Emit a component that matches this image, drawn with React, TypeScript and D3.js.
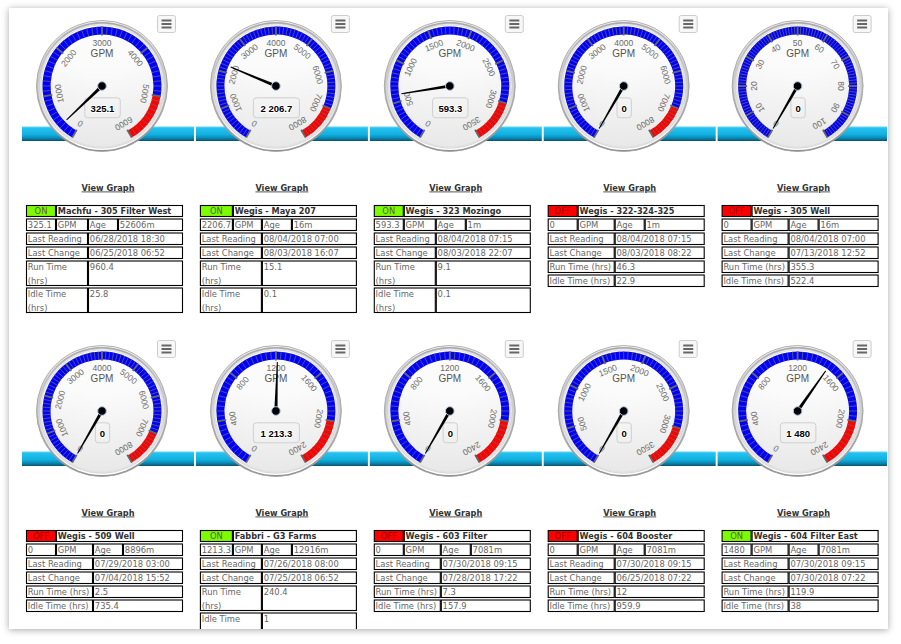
import React from "react";
import * as d3 from "d3";

// ---------- DATA ----------
const stationNames = [
  "Machfu - 305 Filter West",
  "Wegis - Maya 207",
  "Wegis - 323 Mozingo",
  "Wegis - 322-324-325",
  "Wegis - 305 Well",
  "Wegis - 509 Well",
  "Fabbri - G3 Farms",
  "Wegis - 603 Filter",
  "Wegis - 604 Booster",
  "Wegis - 604 Filter East",
];
const flowValues = [325.1, 2206.7, 593.3, 0, 0, 0, 1213.3, 0, 0, 1480];
const gaugeMax = [6000, 8000, 3500, 8000, 100, 8000, 2400, 2400, 3500, 2400];
const tickStep = [1000, 1000, 500, 1000, 10, 1000, 400, 400, 500, 400];
const redFrom: (number | null)[] = [5000, 7000, 3000, 7000, null, 7000, 2000, 2000, 3000, 2000];
const statusLabels = ["ON", "ON", "ON", "OFF", "OFF", "OFF", "ON", "OFF", "OFF", "ON"];
const ageLabels = ["52606m", "16m", "1m", "1m", "16m", "8896m", "12916m", "7081m", "7081m", "7081m"];
const lastReading = [
  "06/28/2018 18:30", "08/04/2018 07:00", "08/04/2018 07:15", "08/04/2018 07:15", "08/04/2018 07:00",
  "07/29/2018 03:00", "07/26/2018 08:00", "07/30/2018 09:15", "07/30/2018 09:15", "07/30/2018 09:15",
];
const lastChange = [
  "06/25/2018 06:52", "08/03/2018 16:07", "08/03/2018 22:07", "08/03/2018 08:22", "07/13/2018 12:52",
  "07/04/2018 15:52", "07/25/2018 06:52", "07/28/2018 17:22", "06/25/2018 07:22", "07/30/2018 07:22",
];
const runTime = ["960.4", "15.1", "9.1", "46.3", "355.3", "2.5", "240.4", "7.3", "12", "119.9"];
const idleTime = ["25.8", "0.1", "0.1", "22.9", "522.4", "735.4", "1", "157.9", "959.9", "38"];
const unitLabel = "GPM";

// ---------- LAYOUT ----------
const W = 901;
const H = 644;
const COL_X0 = 21;
const COL_W = 173.9;
const ROW_DY = 325;
const WRAPPED = new Set([0, 1, 2, 6]);
const GAUGE_FONT = "'Liberation Sans', Arial, sans-serif";
const TABLE_FONT = "'DejaVu Sans', Verdana, sans-serif";

const fmtLabel = (v: number) => d3.format(",")(v).replace(/,/g, " ");

function Gauge({ i, cx, cy }: { i: number; cx: number; cy: number }) {
  const max = gaugeMax[i];
  const step = tickStep[i];
  const angle = d3.scaleLinear().domain([0, max]).range([-150, 150]);
  const rad = (deg: number) => (deg * Math.PI) / 180;
  const R_OUT = 59.5;
  const R_IN = 51.5;
  const band = d3.arc<any>().innerRadius(R_IN).outerRadius(R_OUT);
  const red = redFrom[i];
  const blueEnd = red == null ? max : red;
  const majors = d3.range(0, max + step / 2, step);
  const minorStep = step / 10;
  const minors = d3.range(0, max + minorStep / 2, minorStep);
  const val = flowValues[i];
  const label = fmtLabel(val);
  const labelW = label.length * 5.3 + 9;
  const needleA = angle(val);
  const pt = (a: number, r: number) => [Math.sin(rad(a)) * r, -Math.cos(rad(a)) * r];

  return (
    <g transform={`translate(${cx},${cy})`}>
      {/* bezel */}
      <circle r={65.5} fill="url(#bezel1)" stroke="#a0a0a0" strokeWidth={0.8} />
      <circle r={64} fill="url(#bezel2)" />
      <circle r={62.3} fill="url(#face)" stroke="#c8c8c8" strokeWidth={0.6} />
      <circle r={61} fill="none" stroke="#e0e0e0" strokeWidth={1.2} />
      {/* bands */}
      <path d={band({ startAngle: rad(angle(0)), endAngle: rad(angle(blueEnd)) }) as string} fill="#0000ff" />
      {red != null && (
        <path d={band({ startAngle: rad(angle(red)), endAngle: rad(angle(max)) }) as string} fill="#ff0000" />
      )}
      {/* minor ticks */}
      {minors.map((m, k) => {
        const [x1, y1] = pt(angle(m), R_IN);
        const [x2, y2] = pt(angle(m), R_OUT);
        return <line key={"m" + k} x1={x1} y1={y1} x2={x2} y2={y2} stroke="#666" strokeWidth={0.8} />;
      })}
      {majors.map((m, k) => {
        const [x1, y1] = pt(angle(m), R_IN - 1);
        const [x2, y2] = pt(angle(m), R_OUT);
        return <line key={"M" + k} x1={x1} y1={y1} x2={x2} y2={y2} stroke="#666" strokeWidth={1.8} />;
      })}
      {/* tick labels */}
      {majors.map((m, k) => {
        const a = angle(m);
        const [x, y] = pt(a, 43.5);
        return (
          <text
            key={"L" + k}
            transform={`translate(${x},${y}) rotate(${a})`}
            textAnchor="middle"
            dominantBaseline="central"
            fontFamily={GAUGE_FONT}
            fontSize={8.5}
            fill="#6b6b6b"
          >
            {m}
          </text>
        );
      })}
      <text y={-33} textAnchor="middle" dominantBaseline="central" fontFamily={GAUGE_FONT} fontSize={10} fill="#555">
        {unitLabel}
      </text>
      {/* data label */}
      <rect x={-labelW / 2 + 0.5} y={11.8} width={labelW} height={20} rx={3} fill="none" stroke="#cfcfcf" strokeWidth={1} />
      <text
        x={0.5}
        y={22}
        textAnchor="middle"
        dominantBaseline="central"
        fontFamily={GAUGE_FONT}
        fontSize={9.5}
        fontWeight="bold"
        fill="#000"
        stroke="#fff"
        strokeWidth={2}
        paintOrder="stroke"
      >
        {label}
      </text>
      {/* needle */}
      <path d="M -1.6 0 L -0.5 -49 L 0.5 -49 L 1.6 0 Z" fill="#000" transform={`rotate(${needleA})`} />
      <circle r={4.3} fill="#000" stroke="#a9c6e6" strokeWidth={1} />
      {/* menu button */}
      <g transform="translate(55,-71)">
        <rect x={0.5} y={0.5} width={18} height={17} rx={2} fill="#f7f7f7" stroke="#cccccc" />
        {[5.5, 9, 12.5].map((yy) => (
          <line key={yy} x1={4.5} x2={14.5} y1={yy} y2={yy} stroke="#666" strokeWidth={2} />
        ))}
      </g>
    </g>
  );
}

function InfoTable({ i, x, y }: { i: number; x: number; y: number }) {
  const wrap = WRAPPED.has(i);
  const valueText = String(flowValues[i]);
  const c1 = valueText.length >= 6 ? 33 : 30;
  const labelW = wrap ? 62 : 67;
  const c3 = 30;
  const total = 157;
  const xs = [x, x + c1, x + labelW, x + labelW + c3, x + total];
  const heights = [12, 12.5, 12.5, 12.5, wrap ? 25.5 : 12.5, wrap ? 25.5 : 12.5];
  const tops: number[] = [];
  let t = y;
  heights.forEach((h) => {
    tops.push(t);
    t += h + 1.5;
  });
  const on = statusLabels[i] === "ON";
  const cell = (a: number, b: number, r: number, fill = "#fff") => (
    <rect
      key={`c${a}${b}${r}`}
      x={xs[a] + 0.5}
      y={tops[r] + 0.5}
      width={xs[b] - xs[a] - 1}
      height={heights[r] - 1}
      fill={fill}
      stroke="#000"
      strokeWidth={1.1}
    />
  );
  const txt = (a: number, r: number, s: string, dy = 0, extra: any = {}) => (
    <text
      key={`t${a}${r}${dy}${s}`}
      x={xs[a] + 1.8}
      y={tops[r] + 9.6 + dy}
      fontFamily={TABLE_FONT}
      fontSize={8.4}
      fill="#666"
      {...extra}
    >
      {s}
    </text>
  );
  return (
    <g>
      {cell(0, 1, 0, on ? "#7cfc00" : "#ff0000")}
      {cell(1, 4, 0)}
      {cell(0, 1, 1)}
      {cell(1, 2, 1)}
      {cell(2, 3, 1)}
      {cell(3, 4, 1)}
      {[2, 3, 4, 5].map((r) => [cell(0, 2, r), cell(2, 4, r)])}
      <text
        x={(xs[0] + xs[1]) / 2}
        y={tops[0] + 9.2}
        textAnchor="middle"
        fontFamily={TABLE_FONT}
        fontSize={8.4}
        fill={on ? "#5a5a5a" : "#9e0000"}
      >
        {statusLabels[i]}
      </text>
      {txt(1, 0, stationNames[i], -0.4, { fontWeight: "bold", fill: "#333", fontSize: 8.2 })}
      {txt(0, 1, valueText)}
      {txt(1, 1, unitLabel)}
      {txt(2, 1, "Age")}
      {txt(3, 1, ageLabels[i])}
      {txt(0, 2, "Last Reading")}
      {txt(2, 2, lastReading[i])}
      {txt(0, 3, "Last Change")}
      {txt(2, 3, lastChange[i])}
      {wrap ? [txt(0, 4, "Run Time"), txt(0, 4, "(hrs)", 14)] : txt(0, 4, "Run Time (hrs)")}
      {txt(2, 4, runTime[i])}
      {wrap ? [txt(0, 5, "Idle Time"), txt(0, 5, "(hrs)", 14)] : txt(0, 5, "Idle Time (hrs)")}
      {txt(2, 5, idleTime[i])}
    </g>
  );
}

export default function App() {
  const idx = d3.range(stationNames.length);
  return (
    <svg width={W} height={H} style={{ position: "absolute", left: 0, top: 0, display: "block" }}>
      <defs>
        <filter id="shadow" x="-5%" y="-5%" width="110%" height="110%">
          <feDropShadow dx={0} dy={1} stdDeviation={3.5} floodColor="#000" floodOpacity={0.35} />
        </filter>
        <linearGradient id="pipe" x1="0" y1="0" x2="0" y2="1">
          <stop offset="0" stopColor="#63d5f5" />
          <stop offset="0.14" stopColor="#22c1ef" />
          <stop offset="0.55" stopColor="#12b0e0" />
          <stop offset="0.75" stopColor="#0b91bf" />
          <stop offset="0.9" stopColor="#0a6f92" />
          <stop offset="1" stopColor="#0b4d63" />
        </linearGradient>
        <linearGradient id="bezel1" x1="0" y1="0" x2="0" y2="1">
          <stop offset="0" stopColor="#f2f2f2" />
          <stop offset="1" stopColor="#8d8d8d" />
        </linearGradient>
        <linearGradient id="bezel2" x1="0" y1="0" x2="0" y2="1">
          <stop offset="0" stopColor="#a8a8a8" />
          <stop offset="1" stopColor="#ffffff" />
        </linearGradient>
        <radialGradient id="face" cx="0.5" cy="-0.4" r="1.9">
          <stop offset="0.4" stopColor="#fbfbfb" />
          <stop offset="1" stopColor="#d9d9d9" />
        </radialGradient>
        <clipPath id="panelClip">
          <rect x={9} y={8} width={879} height={621} />
        </clipPath>
      </defs>
      <rect width={W} height={H} fill="#fff" />
      <rect x={9} y={8} width={879} height={621} fill="#fff" filter="url(#shadow)" />
      <g clipPath="url(#panelClip)">
        {idx.map((i) => {
          const col = i % 5;
          const row = Math.floor(i / 5);
          const left = COL_X0 + col * COL_W;
          const x0 = left + 1;
          const x1 = col === 4 ? 887 : left + COL_W - 0.9;
          return (
            <rect key={"p" + i} x={x0} y={126.5 + row * ROW_DY} width={x1 - x0} height={14.5} fill="url(#pipe)" />
          );
        })}
        {idx.map((i) => {
          const col = i % 5;
          const row = Math.floor(i / 5);
          const left = COL_X0 + col * COL_W;
          const oy = row * ROW_DY;
          return (
            <g key={"g" + i}>
              <Gauge i={i} cx={left + 81} cy={86 + oy} />
              <text
                x={left + 87}
                y={190.5 + oy}
                textAnchor="middle"
                fontFamily={TABLE_FONT}
                fontSize={8.2}
                fontWeight="bold"
                fill="#333"
                style={{ textDecoration: "underline" }}
              >
                View Graph
              </text>
              <InfoTable i={i} x={left + 5} y={205 + oy} />
            </g>
          );
        })}
      </g>
    </svg>
  );
}
